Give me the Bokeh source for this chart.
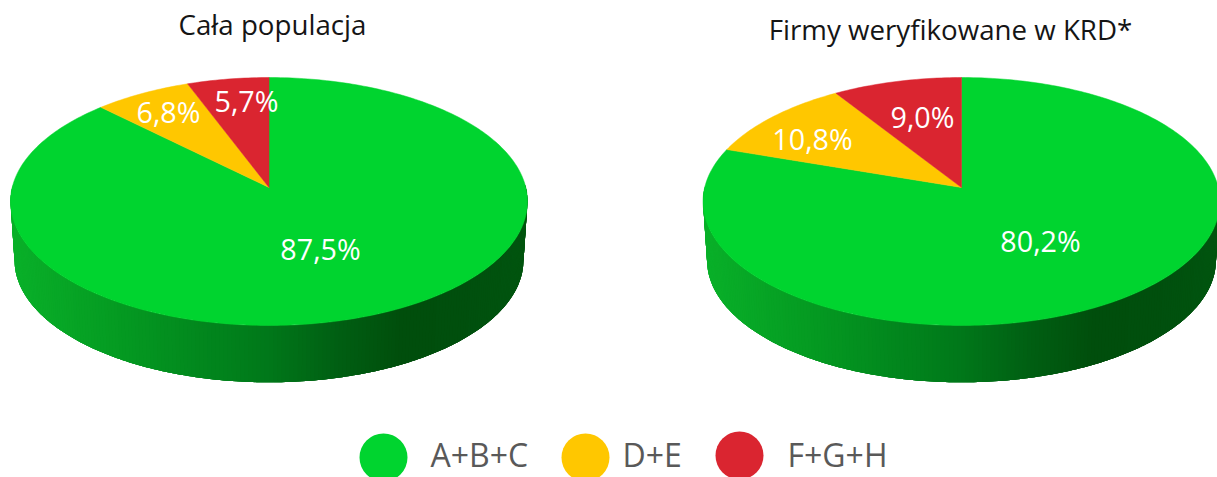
import numpy as np
from bokeh.plotting import figure
from bokeh.embed import file_html
from bokeh.resources import INLINE
from bokeh.core.properties import value

# ---- data ----
categories = ["A+B+C", "D+E", "F+G+H"]
population_values = [87.5, 6.8, 5.7]
krd_values = [80.2, 10.8, 9.0]
chart_titles = ["Cała populacja", "Firmy weryfikowane w KRD*"]

# ---- style / layout ----
colors = ["#00d42f", "#ffc700", "#da2530"]
FONT = value("Open Sans")
TITLE_POS = [(272, 23), (950, 28)]
CENTERS = [268.5, 961.0]
LABEL_POS = [[(320, 248), (168, 111), (246, 100)], [(1040, 240), (812, 138), (922, 116)]]
LEGEND_CIRCLES = [(383, 457), (585, 457), (739, 455)]
LEGEND_TEXT = [430, 622, 787]
TILT = 0.1129
A, B, Y0 = 256.8, 122.4, 187.0
S_LOW, Y0_LOW = 0.9845, 246.0
# side shading stops: offset from pie centre -> rgb
GRAD_X = [-262, -150, 0, 60, 135, 200, 262]
GRAD_R = [10, 5, 0, 0, 0, 0, 0]
GRAD_G = [178, 155, 120, 98, 78, 80, 86]
GRAD_B = [42, 34, 26, 20, 12, 14, 16]


def rim(theta, cx, scale=1.0, y0=Y0):
    w = 1 + TILT * np.cos(theta)
    return cx + scale * A * np.sin(theta) / w, y0 - scale * B * np.cos(theta) / w


p = figure(width=1217, height=477, x_range=(0, 1217), y_range=(477, 0),
           output_backend="svg", toolbar_location=None, min_border=0,
           x_axis_type=None, y_axis_type=None, outline_line_color=None,
           background_fill_color="white", border_fill_color="white")
p.grid.visible = False

for cx, vals, positions in zip(CENTERS, [population_values, krd_values], LABEL_POS):
    # side wall: painted left to right, each band overlapping the next so no seams show
    th = np.linspace(3 * np.pi / 2 + 0.02, np.pi / 2 - 0.02, 221)
    tx, ty = rim(th, cx)
    bx, by = rim(th, cx, S_LOW, Y0_LOW)
    xs, ys, cols = [], [], []
    for i in range(len(th) - 1):
        j = min(i + 4, len(th) - 1)
        xs.append(np.r_[tx[i:j + 1], bx[i:j + 1][::-1]])
        ys.append(np.r_[ty[i:j + 1], by[i:j + 1][::-1]])
        off = (tx[i] + tx[i + 1] + bx[i] + bx[i + 1]) / 4 - cx
        r = np.interp(off, GRAD_X, GRAD_R)
        g = np.interp(off, GRAD_X, GRAD_G)
        b = np.interp(off, GRAD_X, GRAD_B)
        cols.append("#%02x%02x%02x" % (int(r), int(g), int(b)))
    p.patches(xs, ys, fill_color=cols, line_color=None)

    # top face, clockwise from 12 o'clock
    start = 0.0
    for v, c in zip(vals, colors):
        end = start + v / sum(vals) * 2 * np.pi
        t = np.linspace(start, end, max(int((end - start) * 60), 8))
        x, y = rim(t, cx)
        p.patch(np.r_[cx, x], np.r_[Y0, y], fill_color=c, line_color=c, line_width=0.5)
        start = end

    labels = [f"{v:.1f}".replace(".", ",") + "%" for v in vals]
    p.text([q[0] for q in positions], [q[1] for q in positions], text=labels,
           text_font=FONT, text_font_size="28.7px", text_color="white",
           text_align="center", text_baseline="middle")

p.text([q[0] for q in TITLE_POS], [q[1] for q in TITLE_POS], text=chart_titles,
       text_font=FONT, text_font_size="27.7px", text_color="#151515",
       text_align="center", text_baseline="middle")

p.ellipse([q[0] for q in LEGEND_CIRCLES], [q[1] for q in LEGEND_CIRCLES],
          width=48, height=48, fill_color=colors, line_color=None)
p.text(LEGEND_TEXT, [454] * 3, text=categories, text_font=FONT, text_font_size="32px",
       text_color="#595959", text_align="left", text_baseline="middle")

open("out.html", "w").write(file_html(p, INLINE))
